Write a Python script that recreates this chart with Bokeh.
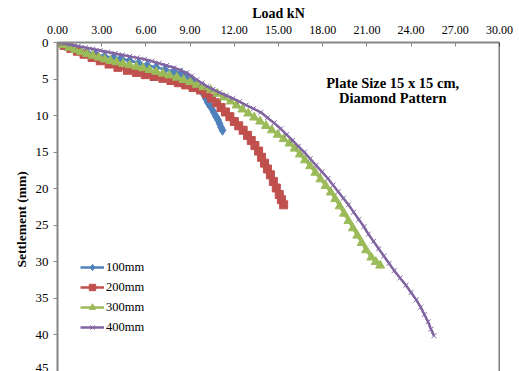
from bokeh.plotting import figure
from bokeh.models import Range1d, LinearAxis, Label, Legend, LegendItem, Span, Title
from bokeh.embed import file_html
from bokeh.resources import INLINE

series_names = ["100mm", "200mm", "300mm", "400mm"]

load_100 = [0.00, 0.50, 1.00, 1.50, 2.00, 2.60, 3.20, 3.80, 4.30, 4.90, 5.50, 6.10, 6.70, 7.30, 7.90,
            8.40, 8.80, 9.10, 9.40, 9.70, 9.90, 10.05, 10.20, 10.40, 10.60, 10.75, 10.90, 11.00, 11.10, 11.20]
sett_100 = [0.00, 0.40, 0.75, 1.05, 1.35, 1.65, 1.90, 2.05, 2.20, 2.50, 2.80, 3.10, 3.40, 3.70, 3.95,
            4.20, 4.60, 5.10, 5.70, 6.40, 7.00, 7.60, 8.20, 8.80, 9.50, 10.10, 10.60, 11.10, 11.60, 12.00]

load_200 = [0.00, 0.45, 0.90, 1.35, 1.80, 2.35, 2.90, 3.50, 4.10, 4.75, 5.35, 5.95, 6.55, 7.15, 7.70,
            8.20, 8.70, 9.20, 9.70, 10.10, 10.45, 10.80, 11.10, 11.40, 11.70, 12.00, 12.30, 12.60, 12.90,
            13.15, 13.40, 13.65, 13.85, 14.05, 14.25, 14.45, 14.65, 14.85, 15.05, 15.20, 15.35]
sett_200 = [0.00, 0.40, 0.80, 1.20, 1.60, 2.05, 2.50, 2.95, 3.40, 3.80, 4.10, 4.40, 4.65, 4.90, 5.20,
            5.50, 5.80, 6.15, 6.50, 7.00, 7.60, 8.25, 8.90, 9.50, 10.15, 10.80, 11.40, 12.00, 12.70,
            13.40, 14.10, 14.85, 15.70, 16.50, 17.30, 18.10, 19.00, 19.90, 20.80, 21.50, 22.20]

load_300 = [0.00, 0.40, 0.80, 1.20, 1.60, 2.00, 2.40, 2.80, 3.20, 3.60, 4.00, 4.45, 4.90, 5.35, 5.80,
            6.25, 6.70, 7.15, 7.60, 8.10, 8.55, 9.00, 9.45, 9.90, 10.40, 10.85, 11.30, 11.75, 12.15,
            12.55, 12.95, 13.35, 13.75, 14.15, 14.55, 14.95, 15.35, 15.75, 16.10, 16.45, 16.80, 17.15,
            17.50, 17.85, 18.20, 18.55, 18.85, 19.15, 19.45, 19.75, 20.05, 20.35, 20.65, 20.95, 21.30,
            21.60, 21.90]
sett_300 = [0.00, 0.35, 0.70, 1.00, 1.30, 1.55, 1.80, 2.05, 2.30, 2.50, 2.70, 2.90, 3.10, 3.30, 3.50,
            3.75, 4.00, 4.25, 4.50, 4.80, 5.10, 5.40, 5.75, 6.10, 6.50, 7.00, 7.50, 8.05, 8.60,
            9.15, 9.70, 10.25, 10.80, 11.40, 12.00, 12.60, 13.20, 13.80, 14.50, 15.30, 16.10, 16.90,
            17.80, 18.70, 19.60, 20.50, 21.40, 22.40, 23.40, 24.40, 25.40, 26.40, 27.40, 28.40, 29.40,
            30.00, 30.50]

load_400 = [0.00, 0.45, 0.90, 1.40, 1.90, 2.40, 2.90, 3.40, 3.90, 4.40, 4.90, 5.40, 5.90, 6.40, 6.90,
            7.40, 7.90, 8.35, 8.75, 9.10, 9.45, 9.80, 10.15, 10.55, 11.00, 11.45, 11.90, 12.35, 12.80,
            13.30, 13.80, 14.25, 14.70, 15.15, 15.55, 15.95, 16.35, 16.75, 17.15, 17.55, 17.95, 18.35,
            18.70, 19.05, 19.40, 19.75, 20.10, 20.45, 20.80, 21.10, 21.45, 21.80, 22.15, 22.50, 22.85,
            23.25, 23.65, 24.00, 24.35, 24.65, 24.90, 25.15, 25.35, 25.55]
sett_400 = [0.00, 0.15, 0.30, 0.50, 0.70, 0.90, 1.10, 1.30, 1.50, 1.70, 1.90, 2.10, 2.30, 2.55, 2.85,
            3.15, 3.45, 3.80, 4.15, 4.60, 5.10, 5.55, 6.00, 6.40, 6.85, 7.25, 7.65, 8.10, 8.55,
            9.05, 9.55, 10.30, 11.00, 11.80, 12.60, 13.40, 14.20, 15.00, 15.90, 16.80, 17.70, 18.60,
            19.50, 20.40, 21.30, 22.20, 23.20, 24.20, 25.20, 26.20, 27.20, 28.20, 29.20, 30.20, 31.20,
            32.20, 33.20, 34.20, 35.20, 36.20, 37.20, 38.20, 39.20, 40.10]

x_ticks = [0, 3, 6, 9, 12, 15, 18, 21, 24, 27, 30]
x_tick_labels = ["0.00", "3.00", "6.00", "9.00", "12.00", "15.00", "18.00", "21.00", "24.00", "27.00", "30.00"]
y_ticks = [0, 5, 10, 15, 20, 25, 30, 35, 40, 45]

colors = ["#4F81BD", "#C0504D", "#9BBB59", "#8064A2"]
SERIF = "Liberation Serif"

p = figure(width=519, height=371, output_backend="svg", toolbar_location=None,
           x_range=Range1d(0, 30), y_range=Range1d(45, 0),
           x_axis_location=None, y_axis_location=None,
           min_border_left=57, min_border_top=42, min_border_right=20, min_border_bottom=0)
p.outline_line_color = None
p.xgrid.visible = False
p.ygrid.visible = False
p.background_fill_color = "white"
p.border_fill_color = "white"

xa = LinearAxis(ticker=x_ticks, axis_label="Load kN")
xa.major_label_overrides = {t: l for t, l in zip(x_ticks, x_tick_labels)}
xa.ticker.num_minor_ticks = 5
xa.axis_line_color = "#868686"
xa.axis_line_width = 2
xa.major_tick_line_color = "#868686"
xa.minor_tick_line_color = "#868686"
xa.major_tick_in = 4
xa.major_tick_out = 0
xa.minor_tick_in = 2
xa.minor_tick_out = 0
xa.major_label_standoff = 9
xa.major_label_text_font = SERIF
xa.major_label_text_font_size = "12px"
xa.major_label_text_color = "black"
xa.axis_label_text_font = SERIF
xa.axis_label_text_font_size = "14px"
xa.axis_label_text_font_style = "bold"
xa.axis_label_text_color = "black"
xa.axis_label_standoff = 2
p.add_layout(xa, "above")

ya = LinearAxis(ticker=y_ticks)
ya.ticker.num_minor_ticks = 5
ya.axis_line_color = "#868686"
ya.axis_line_width = 2
ya.major_tick_line_color = "#868686"
ya.minor_tick_line_color = "#868686"
ya.major_tick_in = 0
ya.major_tick_out = 4
ya.minor_tick_in = 0
ya.minor_tick_out = 2
ya.major_label_standoff = 5
ya.major_label_text_font = SERIF
ya.major_label_text_font_size = "13px"
ya.major_label_text_color = "black"
p.add_layout(ya, "left")

ytitle = Title(text="Settlement (mm)", align="left", offset=104, text_font=SERIF,
               text_font_size="13.5px", text_font_style="bold", text_color="black", standoff=7)
p.add_layout(ytitle, "left")

p.add_layout(Span(location=30, dimension="height", line_color="black", line_width=1.5))

items = []
data = [(load_100, sett_100, "diamond", 10), (load_200, sett_200, "square", 8),
        (load_300, sett_300, "triangle", 9), (load_400, sett_400, "x", 7)]
for (xs, ys, mk, sz), c, name in zip(data, colors, series_names):
    lr = p.line(xs, ys, line_color=c, line_width=2.5)
    if mk == "x":
        sr = p.scatter(xs, ys, marker=mk, size=sz, line_color=c, line_width=1)
    else:
        sr = p.scatter(xs, ys, marker=mk, size=sz, fill_color=c, line_color=c)
    items.append(LegendItem(label=name, renderers=[lr, sr]))

leg = Legend(items=items, location=(23, 36), orientation="vertical")
leg.background_fill_alpha = 0
leg.border_line_color = None
leg.label_text_font = SERIF
leg.label_text_font_size = "12.5px"
leg.label_text_color = "black"
leg.glyph_width = 24
leg.glyph_height = 16
leg.label_height = 16
leg.label_standoff = 2
leg.spacing = 4
leg.padding = 5
p.add_layout(leg, "center")

for txt, yv in [("Plate Size 15 x 15 cm,", 5.5), ("Diamond Pattern", 7.55)]:
    p.add_layout(Label(x=22.75, y=yv, text=txt, text_align="center", text_baseline="middle",
                       text_font=SERIF, text_font_size="14.5px", text_font_style="bold",
                       text_color="black"))

open("out.html", "w").write(file_html(p, INLINE))
